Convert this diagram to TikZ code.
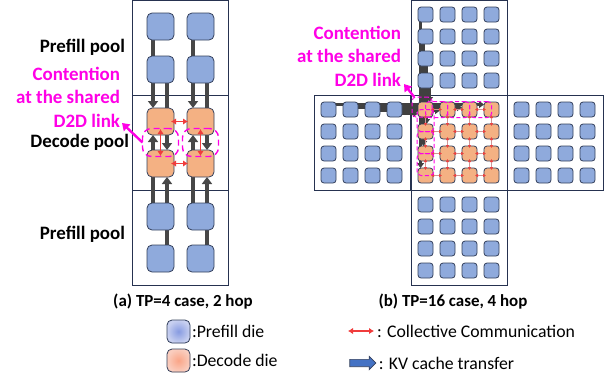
\documentclass[tikz,border=0pt]{standalone}
\usepackage{fontspec}
\setmainfont{Carlito}
\usetikzlibrary{arrows.meta, calc, backgrounds, positioning, shapes.arrows}
\definecolor{pfill}{RGB}{143,170,220}
\definecolor{dfill}{RGB}{244,177,131}
\definecolor{dieline}{RGB}{52,64,92}
\definecolor{boxline}{RGB}{38,50,80}
\definecolor{ccred}{RGB}{240,60,60}
\definecolor{cclink}{RGB}{205,150,150}
\definecolor{hot}{RGB}{255,0,230}
\definecolor{kvblue}{RGB}{68,114,196}
\definecolor{pin}{RGB}{135,155,225}
\definecolor{pout}{RGB}{200,208,240}
\definecolor{din}{RGB}{250,165,135}
\definecolor{dout}{RGB}{250,205,190}

\begin{document}
\begin{tikzpicture}[x=1bp, y=-1bp, every node/.style={inner sep=0pt, outer sep=0pt},
    pool/.style={draw=boxline, line width=0.8bp},
    pdie/.style={draw=dieline, fill=pfill, line width=0.8bp, rounded corners=5bp, minimum size=27bp},
    ddie/.style={pdie, fill=dfill},
    sdie/.style={minimum size=15bp, rounded corners=3bp},
    kv/.style={draw=black!72, line width=3.6bp, -{Triangle[length=7bp,width=10bp]}},
    kvline/.style={draw=black!72, line width=3.6bp},
    kvs/.style={draw=black!75, line width=2.2bp, -{Triangle[length=5bp,width=7bp]}},
    cc/.style={draw=ccred, line width=1.3bp, {Latex[length=5bp,width=6.5bp]}-{Latex[length=5bp,width=6.5bp]}},
    ccs/.style={draw=cclink, line width=0.8bp, {Latex[color=ccred,length=3bp,width=3.5bp]}-{Latex[color=ccred,length=3bp,width=3.5bp]}, shorten <=-2bp, shorten >=-2bp},
    hotbox/.style={draw=hot, dash pattern=on 6bp off 4bp, line width=1.4bp, rounded corners=9bp},
    hotsbox/.style={draw=hot, dash pattern=on 4bp off 2.5bp, line width=1bp, rounded corners=4bp},
    hotarrow/.style={draw=hot, line width=2.4bp, -{Triangle[length=7bp,width=9bp]}},
    lbl/.style={font=\fontsize{19}{23.5}\selectfont\bfseries},
    hotlbl/.style={lbl, text=hot, align=right},
    captext/.style={font=\fontsize{17}{20}\selectfont\bfseries},
    lgtxt/.style={font=\fontsize{17.8}{20}\selectfont}]
    \useasboundingbox (0,0) rectangle (612,375);

    \foreach \r/\y/\s in {1/26.5/pdie, 2/69.5/pdie, 3/121.5/ddie, 4/163.5/ddie, 5/216.5/pdie, 6/258.5/pdie}
        \foreach \c/\x in {1/160.5, 2/200.5}
            \node[\s] (a\r\c) at (\x,\y) {};

    \foreach \b/\bx/\by/\s in {t/411/0/pdie, l/314/95/pdie, c/411/95/ddie, r/507/95/pdie, b/411/190/pdie}
        \foreach \r in {1,...,4}
            \foreach \c in {1,...,4}
                \node[\s, sdie] (\b\r\c) at (\bx+22*\c-7.5, \by+22*\r-7.5) {};

    \begin{scope}[on background layer]
        \foreach \y in {0,95,190} \draw[pool] (132,\y) rectangle ++(96,95);
        \foreach \bx/\by in {411/0, 314/95, 411/95, 507/95, 411/190} \draw[pool] (\bx,\by) rectangle ++(96,95);
        \foreach \c in {1,2} {
            \draw[kvline] ([xshift=-7.5bp]a1\c.south) -- ([xshift=-7.5bp]a2\c.north);
            \draw[kv] ([xshift=-7.5bp]a2\c.south) -- ([xshift=-7.5bp]a3\c.north);
            \draw[kv] ([xshift=6.5bp]a2\c.south) -- ([xshift=6.5bp]a4\c.north);
            \draw[kvline] ([xshift=6.5bp]a5\c.south) -- ([xshift=6.5bp]a6\c.north);
            \draw[kv] ([xshift=6.5bp]a5\c.north) -- ([xshift=6.5bp]a4\c.south);
            \draw[kv] ([xshift=-7.5bp]a5\c.north) -- ([xshift=-7.5bp]a3\c.south);
        }
        \foreach \r/\d/\o in {1/4/-5, 2/3/-2, 3/2/1, 4/1/4}
            \draw[kvs] ([xshift=\o bp]t\r1.south) -- ([xshift=\o bp]c\d1.north);
        \foreach \c/\d/\o in {1/4/5, 2/3/2, 3/2/-1, 4/1/-4}
            \draw[kvs] ([yshift=\o bp]l1\c.east) -- ([yshift=\o bp]c1\d.west);
    \end{scope}

    \foreach \r in {3,4} \draw[cc, shorten <=-3bp, shorten >=-1bp] (a\r1.east) -- (a\r2.west);
    \foreach \c in {1,2} {
        \draw[cc] ([yshift=6bp]a3\c.south) -- ([yshift=-6bp]a4\c.north);
        \node[hotbox, minimum width=36bp, minimum height=28bp] (e\c) at ($(a3\c)!0.5!(a4\c)$) {};
    }

    \foreach \r in {1,...,4}
        \foreach \c/\n in {1/2, 2/3, 3/4} {
            \draw[ccs] (c\r\c.east) -- (c\r\n.west);
            \draw[ccs] (c\c\r.south) -- (c\n\r.north);
        }
    \node[hotsbox, minimum width=20bp, minimum height=20bp] (f0) at (422,107) {};
    \foreach \c/\n in {1/2, 2/3, 3/4}
        \node[hotsbox, minimum width=22bp, minimum height=16bp] (h\c) at ($(c1\c)!0.5!(c1\n)$) {};
    \foreach \r/\n in {1/2, 2/3, 3/4}
        \node[hotsbox, minimum width=17bp, minimum height=22bp] (v\r) at ($(c\r1)!0.5!(c\n1)$) {};

    \node[lbl, anchor=east] (pf1) at (125,47) {Prefill pool};
    \node[lbl, anchor=east] (dp) at (129,142) {Decode pool};
    \node[lbl, anchor=east] (pf2) at (125,234) {Prefill pool};
    \node[hotlbl, anchor=east] (lblA) at (120,97) {Contention\\at the shared\\D2D link};
    \node[hotlbl, anchor=east] (lblB) at (401,56) {Contention\\at the shared\\D2D link};
    \coordinate (pa) at (122,123);
    \coordinate (pb) at (404,84);
    \draw[hotarrow] (e1.west) -- (pa);
    \draw[hotarrow] (f0) -- (pb);

    \node[captext] (capA) at (183,302) {(a) TP=4 case, 2 hop};
    \node[captext] (capB) at (453,302) {(b) TP=16 case, 4 hop};

    \node[pdie, minimum size=23bp, inner color=pin, outer color=pout] (lgP) at (178.5,331.5) {};
    \node[ddie, minimum size=23bp, inner color=din, outer color=dout] (lgD) at (178.5,360.5) {};
    \node[lgtxt, right=2bp of lgP] (lgPt) {:Prefill die};
    \node[lgtxt, right=2bp of lgD] (lgDt) {:Decode die};
    \coordinate (cc0) at (348,331);
    \coordinate (cc1) at (374,331);
    \draw[cc] (cc0) -- (cc1);
    \node[lgtxt, right=3bp of cc1] (ccT) {: Collective Communication};
    \node[single arrow, draw=dieline, fill=kvblue, line width=0.7bp, inner sep=3.3bp, minimum height=26bp,
        single arrow head extend=3bp] (kvI) at (361,363) {};
    \node[lgtxt, right=3bp of kvI] (kvT) {: KV cache transfer};
\end{tikzpicture}
\end{document}
